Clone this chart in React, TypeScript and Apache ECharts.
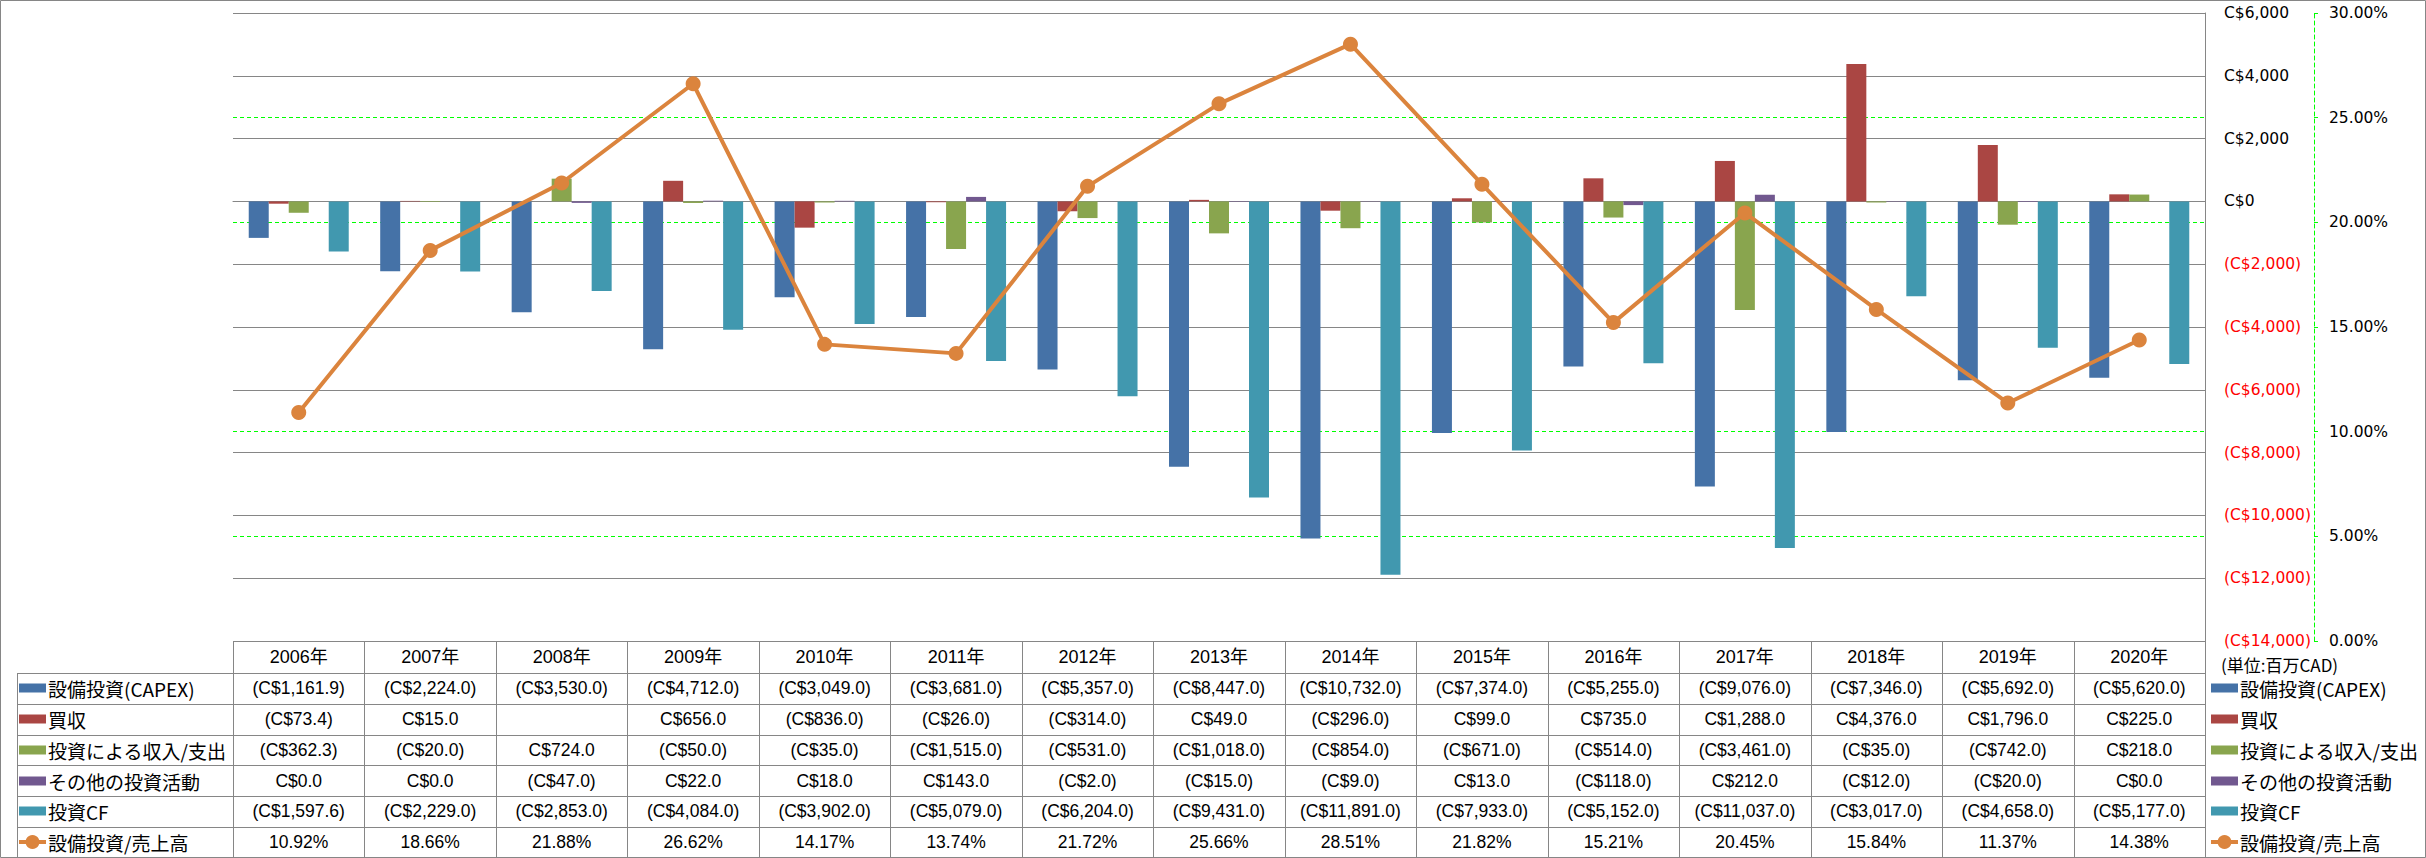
import React, { useEffect, useRef } from "react";
import * as echarts from "echarts";

const years = ["2006年", "2007年", "2008年", "2009年", "2010年", "2011年", "2012年", "2013年", "2014年", "2015年", "2016年", "2017年", "2018年", "2019年", "2020年"];
const capex = [-1161.9, -2224.0, -3530.0, -4712.0, -3049.0, -3681.0, -5357.0, -8447.0, -10732.0, -7374.0, -5255.0, -9076.0, -7346.0, -5692.0, -5620.0];
const acquisitions: (number | null)[] = [-73.4, 15.0, null, 656.0, -836.0, -26.0, -314.0, 49.0, -296.0, 99.0, 735.0, 1288.0, 4376.0, 1796.0, 225.0];
const investIncome = [-362.3, -20.0, 724.0, -50.0, -35.0, -1515.0, -531.0, -1018.0, -854.0, -671.0, -514.0, -3461.0, -35.0, -742.0, 218.0];
const otherInvest = [0.0, 0.0, -47.0, 22.0, 18.0, 143.0, -2.0, -15.0, -9.0, 13.0, -118.0, 212.0, -12.0, -20.0, 0.0];
const investCF = [-1597.6, -2229.0, -2853.0, -4084.0, -3902.0, -5079.0, -6204.0, -9431.0, -11891.0, -7933.0, -5152.0, -11037.0, -3017.0, -4658.0, -5177.0];
const capexRatio = [10.92, 18.66, 21.88, 26.62, 14.17, 13.74, 21.72, 25.66, 28.51, 21.82, 15.21, 20.45, 15.84, 11.37, 14.38];

const seriesNames = ["設備投資(CAPEX)", "買収", "投資による収入/支出", "その他の投資活動", "投資CF", "設備投資/売上高"];
const seriesColors = ["#4572A7", "#AA4643", "#89A54E", "#71588F", "#4198AF", "#DB843D"];
const unitLabel = "(単位:百万CAD)";

const W = 2426;
const H = 858;
const PL = 233;
const PR = 2205;
const PT = 13;
const PB = 641;
const GRAY = "#868686";
const GREEN = "#00FF00";
const NUM_FONT = "17.5px 'Liberation Sans', 'Noto Sans CJK JP', sans-serif";
const HEAD_FONT = "18px 'Liberation Sans', 'Noto Sans CJK JP', sans-serif";
const LBL_FONT = "19px 'Noto Sans CJK JP', sans-serif";
const AXIS_FONT = "DejaVu Sans";

function fmtMoney(v: number | null): string {
  if (v === null || v === undefined) return "";
  const s = Math.abs(v).toLocaleString("en-US", { minimumFractionDigits: 1, maximumFractionDigits: 1 });
  return v < 0 ? "(C$" + s + ")" : "C$" + s;
}
function fmtPct(v: number): string {
  return v.toFixed(2) + "%";
}

export default function App() {
  const ref = useRef<HTMLDivElement>(null);
  useEffect(() => {
    const el = ref.current!;
    const chart = echarts.init(el, null, { renderer: "svg" });

    const rows: { name: string; values: string[]; color: string; isLine: boolean }[] = [
      { name: seriesNames[0], values: capex.map(fmtMoney), color: seriesColors[0], isLine: false },
      { name: seriesNames[1], values: acquisitions.map(fmtMoney), color: seriesColors[1], isLine: false },
      { name: seriesNames[2], values: investIncome.map(fmtMoney), color: seriesColors[2], isLine: false },
      { name: seriesNames[3], values: otherInvest.map(fmtMoney), color: seriesColors[3], isLine: false },
      { name: seriesNames[4], values: investCF.map(fmtMoney), color: seriesColors[4], isLine: false },
      { name: seriesNames[5], values: capexRatio.map(fmtPct), color: seriesColors[5], isLine: true },
    ];

    const colW = (PR - PL) / years.length;
    const rowLines = [673, 704, 735, 765, 796, 827, 857];
    const rowCenters = [688, 719, 750, 781, 811, 842];
    const headerY = 657;
    const g: any[] = [];
    const line = (x1: number, y1: number, x2: number, y2: number) =>
      g.push({ type: "line", silent: true, shape: { x1, y1, x2, y2 }, style: { stroke: GRAY, lineWidth: 1 } });

    // outer border
    g.push({ type: "rect", silent: true, shape: { x: 0.5, y: 0.5, width: W - 1, height: H - 1 }, style: { fill: "none", stroke: GRAY, lineWidth: 1 } });
    // table grid
    for (let k = 0; k <= years.length; k++) {
      const x = Math.round(PL + k * colW) + 0.5;
      line(x, PB, x, 857);
    }
    line(17.5, rowLines[0], 17.5, 857);
    rowLines.forEach((y) => line(17, y + 0.5, PR, y + 0.5));

    // header
    years.forEach((yr, i) => {
      g.push({
        type: "text", silent: true,
        style: { text: yr, x: PL + (i + 0.5) * colW, y: headerY, font: HEAD_FONT, fill: "#000", align: "center", verticalAlign: "middle", textAlign: "center", textVerticalAlign: "middle" },
      });
    });
    // cells and legend keys
    const legendKey = (x: number, y: number, r: { color: string; isLine: boolean }) => {
      if (r.isLine) {
        g.push({ type: "line", silent: true, shape: { x1: x, y1: y, x2: x + 27, y2: y }, style: { stroke: r.color, lineWidth: 4 } });
        g.push({ type: "circle", silent: true, shape: { cx: x + 13.5, cy: y, r: 7 }, style: { fill: r.color } });
      } else {
        g.push({ type: "rect", silent: true, shape: { x, y: y - 4.5, width: 27, height: 9 }, style: { fill: r.color } });
      }
    };
    rows.forEach((r, ri) => {
      const cy = rowCenters[ri];
      legendKey(19, cy, r);
      g.push({ type: "text", silent: true, style: { text: r.name, x: 48, y: cy, font: LBL_FONT, fill: "#000", align: "left", verticalAlign: "middle", textAlign: "left", textVerticalAlign: "middle" } });
      legendKey(2211, cy, r);
      g.push({ type: "text", silent: true, style: { text: r.name, x: 2240, y: cy, font: LBL_FONT, fill: "#000", align: "left", verticalAlign: "middle", textAlign: "left", textVerticalAlign: "middle" } });
      r.values.forEach((v, i) => {
        g.push({ type: "text", silent: true, style: { text: v, x: PL + (i + 0.5) * colW, y: cy, font: NUM_FONT, fill: "#000", align: "center", verticalAlign: "middle", textAlign: "center", textVerticalAlign: "middle" } });
      });
    });
    g.push({ type: "text", silent: true, style: { text: unitLabel, x: 2221, y: 664, font: "17px 'Noto Sans CJK JP', sans-serif", fill: "#000", align: "left", verticalAlign: "middle", textAlign: "left", textVerticalAlign: "middle" } });

    const barSeries = [capex, acquisitions, investIncome, otherInvest, investCF].map((d, i) => ({
      name: seriesNames[i],
      type: "bar",
      data: d,
      barWidth: 20,
      barGap: "0%",
      itemStyle: { color: seriesColors[i] },
      z: 3,
    }));

    const option: any = {
      animation: false,
      backgroundColor: "#fff",
      grid: { left: PL, right: W - PR, top: PT, bottom: H - PB, containLabel: false },
      xAxis: {
        type: "category",
        data: years,
        boundaryGap: true,
        axisLine: { show: true, lineStyle: { color: GRAY, width: 1 } },
        axisTick: { show: false },
        axisLabel: { show: false },
        splitLine: { show: false },
      },
      yAxis: [
        {
          type: "value",
          position: "right",
          min: -14000,
          max: 6000,
          interval: 2000,
          axisLine: { show: true, lineStyle: { color: GRAY, width: 1 } },
          axisTick: { show: false },
          splitLine: { show: true, lineStyle: { color: GRAY, width: 1 } },
          z: 2,
          axisLabel: {
            margin: 19,
            fontFamily: AXIS_FONT,
            fontSize: 15.5,
            formatter: (v: number) => (v < 0 ? "{n|(C$" + Math.abs(v).toLocaleString("en-US") + ")}" : "{p|C$" + v.toLocaleString("en-US") + "}"),
            rich: {
              n: { color: "#FF0000", fontFamily: AXIS_FONT, fontSize: 15.5 },
              p: { color: "#000", fontFamily: AXIS_FONT, fontSize: 15.5 },
            },
          },
        },
        {
          type: "value",
          position: "right",
          offset: 109,
          min: 0,
          max: 30,
          interval: 5,
          z: 1,
          axisLine: { show: true, lineStyle: { color: GREEN, width: 1, type: [4, 3] } },
          axisTick: { show: true, length: 4, lineStyle: { color: GREEN, width: 1 } },
          splitLine: { show: true, showMinLine: false, showMaxLine: false, lineStyle: { color: GREEN, width: 1, type: [4, 3] } },
          axisLabel: { margin: 15, color: "#000", fontFamily: AXIS_FONT, fontSize: 15.5, formatter: (v: number) => v.toFixed(2) + "%" },
        },
      ],
      series: [
        ...barSeries,
        {
          name: seriesNames[5],
          type: "line",
          yAxisIndex: 1,
          data: capexRatio,
          symbol: "circle",
          symbolSize: 15,
          lineStyle: { color: seriesColors[5], width: 4 },
          itemStyle: { color: seriesColors[5] },
          z: 5,
        },
      ],
      graphic: g,
    };
    chart.setOption(option);
    return () => chart.dispose();
  }, []);
  return <div ref={ref} style={{ position: "fixed", left: 0, top: 0, width: W, height: H, background: "#fff" }} />;
}
